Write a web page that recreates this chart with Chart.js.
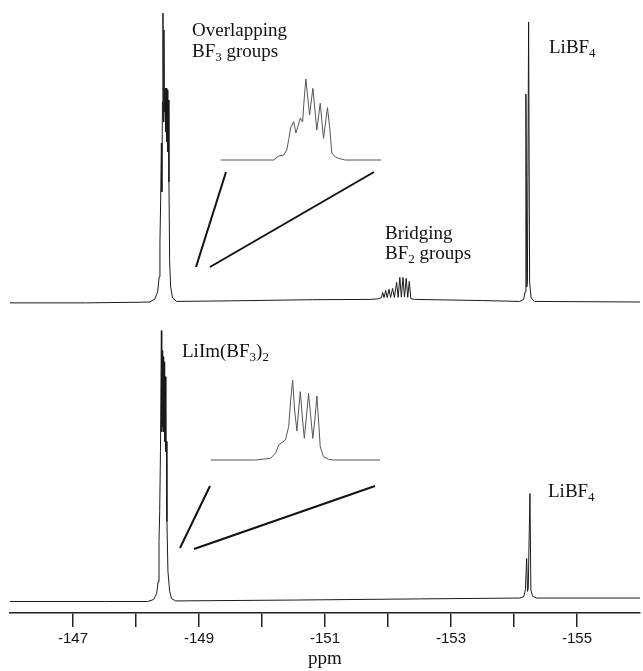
<!DOCTYPE html>
<html>
<head>
<meta charset="utf-8">
<title>19F NMR spectra</title>
<script src="https://cdn.jsdelivr.net/npm/chart.js@4.4.1/dist/chart.umd.min.js"></script>
<style>
  html, body { margin: 0; padding: 0; background: #fff; }
  canvas { display: block; }
</style>
</head>
<body>
<canvas id="nmr" width="643" height="671"></canvas>
<script>
// shared ppm axis, drawn reversed (high field on the right)
const ppmMin = -156;
const ppmMax = -146;
const labelledTicks = [-147, -149, -151, -153, -155];

// upper spectrum [ppm, intensity], 100 = tallest BF3 line
const topTrace = [
    [-146.00, -0.3], [-147.20, -0.3], [-148.00, -0.1], [-148.218, 0],
    [-148.297, 1.0], [-148.344, 3.5], [-148.368, 8.7], [-148.380, 20.8],
    [-148.391, 34.6], [-148.403, 55.0], [-148.410, 38.1], [-148.420, 69.2],
    [-148.428, 100], [-148.436, 62.3], [-148.444, 94.1], [-148.451, 65.7],
    [-148.462, 74.0], [-148.470, 58.8], [-148.480, 74.0], [-148.488, 55.4],
    [-148.497, 73.4], [-148.505, 51.9], [-148.515, 69.9], [-148.523, 41.5],
    [-148.534, 13.8], [-148.550, 5.2], [-148.581, 1.4], [-148.644, 0.2],
    [-149.50, 0.4], [-150.80, 0.8], [-151.722, 0.9], [-151.848, 1.1],
    [-151.896, 1.5], [-151.916, 3.3], [-151.937, 1.5], [-151.964, 4.0],
    [-151.987, 1.5], [-152.016, 4.4], [-152.041, 1.6], [-152.073, 4.7],
    [-152.101, 1.6], [-152.137, 6.8], [-152.161, 1.6], [-152.188, 8.5],
    [-152.212, 1.7], [-152.238, 8.5], [-152.262, 1.7], [-152.289, 8.2],
    [-152.313, 1.6], [-152.338, 7.1], [-152.362, 1.2], [-152.417, 0.9],
    [-153.50, 0.5], [-154.090, 0.2], [-154.153, 0.9], [-154.177, 3.5],
    [-154.189, 72.0], [-154.203, 5.2], [-154.213, 6.9], [-154.232, 96.9],
    [-154.248, 6.9], [-154.271, 1.4], [-154.327, 0.2], [-156.00, 0]
];

// lower spectrum, same intensity units
const bottomTrace = [
    [-146.00, 0], [-147.50, 0], [-148.186, 0], [-148.281, 0.7],
    [-148.328, 2.8], [-148.352, 6.9], [-148.365, 20.8], [-148.376, 31.1],
    [-148.388, 51.9], [-148.403, 93.8], [-148.409, 58.8], [-148.415, 86.9],
    [-148.423, 60.6], [-148.431, 84.8], [-148.439, 58.8], [-148.447, 83.0],
    [-148.455, 55.4], [-148.464, 77.9], [-148.474, 51.9], [-148.483, 55.4],
    [-148.491, 27.7], [-148.507, 10.4], [-148.534, 3.5], [-148.565, 1.0],
    [-148.628, 0.2], [-150.50, 0.5], [-152.50, 0.9], [-154.090, 1.2],
    [-154.153, 1.6], [-154.181, 4.0], [-154.201, 14.9], [-154.215, 3.5],
    [-154.226, 4.5], [-154.253, 37.4], [-154.268, 4.0], [-154.295, 1.8],
    [-154.358, 1.2], [-156.00, 1.2]
];

// expanded BF3 multiplets, tallest line = 100
const topInset = [
    [-148.2994, 0], [-148.3988, 0], [-148.4081, 4.9], [-148.4174, 6.2],
    [-148.4230, 12.3], [-148.4267, 24.7], [-148.4304, 39.5], [-148.4360, 47.3],
    [-148.4403, 33.3], [-148.4453, 44.4], [-148.4485, 51.9], [-148.4528, 46.9],
    [-148.4556, 74.1], [-148.4589, 100], [-148.4658, 55.6], [-148.4720, 88.5],
    [-148.4794, 37.0], [-148.4858, 70.0], [-148.4919, 26.8], [-148.4994, 64.6],
    [-148.5040, 37.0], [-148.5074, 8.6], [-148.5143, 3.7], [-148.5199, 2.1],
    [-148.5324, 0], [-148.5994, 0]
];

const bottomInset = [
    [-148.2995, 0], [-148.3789, 0], [-148.4054, 2.1], [-148.4147, 8.8],
    [-148.4200, 18.8], [-148.4318, 25.0], [-148.4376, 41.6], [-148.4412, 75.0],
    [-148.4447, 100], [-148.4482, 62.5], [-148.4523, 36.3], [-148.4553, 62.5],
    [-148.4583, 85.4], [-148.4615, 56.3], [-148.4654, 27.1], [-148.4694, 56.3],
    [-148.4729, 83.4], [-148.4765, 56.3], [-148.4805, 27.1], [-148.4840, 50.0],
    [-148.4876, 80.0], [-148.4906, 50.0], [-148.4936, 16.6], [-148.4994, 4.1],
    [-148.5082, 0.9], [-148.5171, 0], [-148.5995, 0]
];

// plot area in canvas pixels (x axis fixed at 58px high, 10px left pad)
const AREA = { left: 10, right: 643, top: 0, bottom: 613 };

// range for a reversed x axis so that v0 lands on p0 and v1 on p1
function xWindow(v0, v1, p0, p1) {
    const w = AREA.right - AREA.left;
    const f0 = (p0 - AREA.left) / w, f1 = (p1 - AREA.left) / w;
    const range = (v0 - v1) / (f1 - f0);
    const max = v0 + f0 * range;
    return { min: max - range, max: max };
}

// range for a y axis with 0 at basePx and topVal at topPx
function yWindow(topVal, basePx, topPx) {
    const h = AREA.bottom - AREA.top;
    const g0 = (AREA.bottom - basePx) / h, g1 = (AREA.bottom - topPx) / h;
    const range = topVal / (g1 - g0);
    const min = -g0 * range;
    return { min: min, max: min + range };
}

const toPoints = arr => arr.map(([x, y]) => ({ x: x, y: y }));

// labels and zoom lines, drawn after the spectra
const notesPlugin = {
    id: 'notes',
    afterDatasetsDraw(chart, args, opts) {
        const ctx = chart.ctx;
        ctx.save();
        ctx.strokeStyle = '#111';
        ctx.lineWidth = 2;
        opts.strokes.forEach(([x1, y1, x2, y2]) => {
            ctx.beginPath();
            ctx.moveTo(x1, y1);
            ctx.lineTo(x2, y2);
            ctx.stroke();
        });
        ctx.fillStyle = '#111';
        ctx.textBaseline = 'alphabetic';
        opts.texts.forEach(t => {
            let x = t.x;
            // "_3" means subscript 3
            t.text.split(/(_\d)/).forEach(part => {
                if (!part) return;
                if (part[0] === '_') {
                    ctx.font = opts.subSize + 'px "Liberation Serif"';
                    ctx.fillText(part.slice(1), x, t.y + 4);
                    x += ctx.measureText(part.slice(1)).width;
                } else {
                    ctx.font = opts.size + 'px "Liberation Serif"';
                    ctx.fillText(part, x, t.y);
                    x += ctx.measureText(part).width;
                }
            });
        });
        ctx.restore();
    }
};

const traceStyle = { pointRadius: 0, borderWidth: 1, tension: 0, fill: false };

Chart.defaults.font.family = 'Liberation Sans';
Chart.defaults.color = '#111';

new Chart(document.getElementById('nmr'), {
    type: 'line',
    data: {
        datasets: [
            { ...traceStyle, data: toPoints(topTrace), borderColor: '#1a1a1a', xAxisID: 'x', yAxisID: 'yTop' },
            { ...traceStyle, data: toPoints(bottomTrace), borderColor: '#1a1a1a', xAxisID: 'x', yAxisID: 'yBot' },
            { ...traceStyle, data: toPoints(topInset), borderColor: '#555', xAxisID: 'xInTop', yAxisID: 'yInTop' },
            { ...traceStyle, data: toPoints(bottomInset), borderColor: '#555', xAxisID: 'xInBot', yAxisID: 'yInBot' }
        ]
    },
    options: {
        responsive: false,
        animation: false,
        devicePixelRatio: 1,
        layout: { padding: { left: AREA.left, right: 0, top: 0, bottom: 0 } },
        plugins: {
            legend: { display: false },
            tooltip: { enabled: false },
            notes: {
                size: 19,
                subSize: 13,
                texts: [
                    { text: 'Overlapping', x: 192, y: 36 },
                    { text: 'BF_3 groups', x: 192, y: 57 },
                    { text: 'LiBF_4', x: 549, y: 53 },
                    { text: 'Bridging', x: 385, y: 239 },
                    { text: 'BF_2 groups', x: 385, y: 259 },
                    { text: 'LiIm(BF_3)_2', x: 182, y: 357 },
                    { text: 'LiBF_4', x: 548, y: 497 }
                ],
                strokes: [
                    [196, 267, 226, 172],
                    [210, 267, 374, 172],
                    [180, 548, 210, 486],
                    [194, 549, 375, 486]
                ]
            }
        },
        scales: {
            x: {
                type: 'linear',
                position: 'bottom',
                min: ppmMin,
                max: ppmMax,
                reverse: true,
                afterFit: scale => { scale.height = 58; },
                border: { display: true, color: '#222', width: 1.5 },
                grid: {
                    drawOnChartArea: false,
                    drawTicks: true,
                    tickLength: 14,
                    lineWidth: 1.5,
                    color: ctx => (ctx.tick && (ctx.tick.value === ppmMin || ctx.tick.value === ppmMax)) ? 'rgba(0,0,0,0)' : '#222'
                },
                ticks: {
                    stepSize: 1,
                    autoSkip: false,
                    maxRotation: 0,
                    padding: 3,
                    font: { size: 15 },
                    color: '#111',
                    callback: v => labelledTicks.includes(v) ? String(v) : ''
                },
                title: {
                    display: true,
                    text: 'ppm',
                    font: { family: 'Liberation Serif', size: 19 },
                    color: '#111',
                    padding: { top: 0, bottom: 1 }
                }
            },
            yTop: { type: 'linear', display: false, ...yWindow(100, 302, 13) },
            yBot: { type: 'linear', display: false, ...yWindow(93.8, 601.5, 330.7) },
            xInTop: { type: 'linear', display: false, reverse: true, ...xWindow(-148.30, -148.60, 222, 383) },
            yInTop: { type: 'linear', display: false, ...yWindow(100, 160, 79) },
            xInBot: { type: 'linear', display: false, reverse: true, ...xWindow(-148.30, -148.60, 212, 382) },
            yInBot: { type: 'linear', display: false, ...yWindow(100, 460, 380) }
        }
    },
    plugins: [notesPlugin]
});
</script>
</body>
</html>
